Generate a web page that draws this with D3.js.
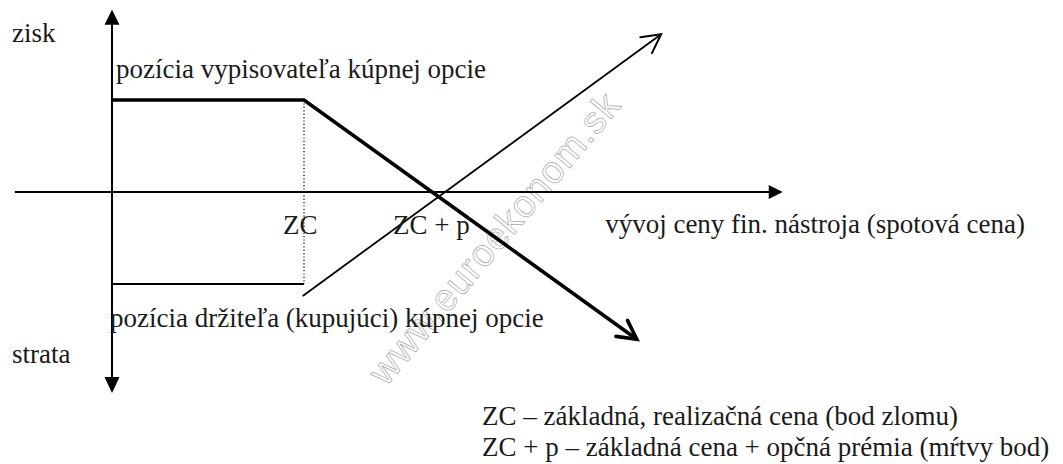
<!DOCTYPE html>
<html>
<head>
<meta charset="utf-8">
<script src="https://cdn.jsdelivr.net/npm/d3@7"></script>
<style>
  html, body { margin: 0; padding: 0; background: #fff; }
  svg { display: block; }
</style>
</head>
<body>
<svg id="chart" width="1063" height="464"></svg>
<script>
// ---- data (price units on x, profit units on y) ----
const axisX = [-1.52, 10.48];          // horizontal axis extent (price)
const axisY = [-4.37, 3.96];           // vertical axis extent (profit)
const strike = 3;                      // ZC
const premium = 2;                     // p
const writerLine = [[0, 2], [3, 2], [8.2, -3.2]];        // pozícia vypisovateľa (thick)
const holderFlat = [[0, -2], [3, -2]];                   // pozícia držiteľa, flat part
const holderRise = [[2.98, -2.26], [8.58, 3.43]];        // pozícia držiteľa, rising part
const strikeDrop = [[3, 2], [3, -2]];                    // dotted line at ZC
const axisLabels = ["zisk", "strata", "vývoj ceny fin. nástroja (spotová cena)"];
const pointLabels = ["ZC", "ZC + p"];
const lineLabels = ["pozícia vypisovateľa kúpnej opcie", "pozícia držiteľa (kupujúci) kúpnej opcie"];
const notes = ["ZC – základná, realizačná cena (bod zlomu)", "ZC + p – základná cena + opčná prémia (mŕtvy bod)"];
const watermark = "www.euroekonom.sk";

const serif = "'Liberation Serif', 'DejaVu Serif', 'Times New Roman', serif";
const svg = d3.select("#chart");
const x = d3.scaleLinear().domain([0, 10]).range([112, 752]);
const y = d3.scaleLinear().domain([-2, 2]).range([284, 100]);
const line = d3.line().x(d => x(d[0])).y(d => y(d[1]));

// watermark (outlined, behind)
svg.append("text")
  .attr("transform", "translate(494,238) rotate(-50)")
  .attr("text-anchor", "middle")
  .attr("dy", "0.35em")
  .attr("font-family", "'Liberation Sans', Arial, sans-serif")
  .attr("font-size", 38)
  .attr("letter-spacing", 1)
  .attr("fill", "none")
  .attr("stroke", "#a8a8a8")
  .attr("stroke-width", 0.7)
  .text(watermark);

// axes
svg.append("line")
  .attr("x1", x(axisX[0])).attr("x2", x(axisX[1]) - 10)
  .attr("y1", y(0)).attr("y2", y(0))
  .attr("stroke", "#000").attr("stroke-width", 2);
svg.append("line")
  .attr("x1", x(0)).attr("x2", x(0))
  .attr("y1", y(axisY[1]) + 10).attr("y2", y(axisY[0]) - 10)
  .attr("stroke", "#000").attr("stroke-width", 2);

function tri(tx, ty, dx, dy, len, half) {
  const bx = tx - dx * len, by = ty - dy * len;
  const px = -dy, py = dx;
  return `M${tx},${ty}L${bx + px * half},${by + py * half}L${bx - px * half},${by - py * half}Z`;
}
svg.append("path").attr("d", tri(x(axisX[1]), y(0), 1, 0, 14, 7)).attr("fill", "#000");
svg.append("path").attr("d", tri(x(0), y(axisY[1]), 0, -1, 15, 7.5)).attr("fill", "#000");
svg.append("path").attr("d", tri(x(0), y(axisY[0]), 0, 1, 16, 7.5)).attr("fill", "#000");

// dotted strike line
svg.append("path").attr("d", line(strikeDrop))
  .attr("fill", "none").attr("stroke", "#000").attr("stroke-width", 1.2)
  .attr("stroke-dasharray", "1.2,2.2");

// holder lines (thin)
svg.append("path").attr("d", line(holderFlat))
  .attr("fill", "none").attr("stroke", "#000").attr("stroke-width", 1.8);
svg.append("path").attr("d", line(holderRise))
  .attr("fill", "none").attr("stroke", "#000").attr("stroke-width", 1.8);

// writer line (thick)
svg.append("path").attr("d", line(writerLine))
  .attr("fill", "none").attr("stroke", "#000").attr("stroke-width", 3.6)
  .attr("stroke-linejoin", "miter");

function openHead(pts, width, arm, ang) {
  const a = pts[pts.length - 2], b = pts[pts.length - 1];
  const tx = x(b[0]), ty = y(b[1]);
  const dx = tx - x(a[0]), dy = ty - y(a[1]);
  const L = Math.hypot(dx, dy), ux = dx / L, uy = dy / L;
  const r = ang * Math.PI / 180;
  const c = Math.cos(r), s = Math.sin(r);
  const a1x = tx - arm * (ux * c - uy * s), a1y = ty - arm * (uy * c + ux * s);
  const a2x = tx - arm * (ux * c + uy * s), a2y = ty - arm * (uy * c - ux * s);
  svg.append("path")
    .attr("d", `M${a1x},${a1y}L${tx},${ty}L${a2x},${a2y}`)
    .attr("fill", "none").attr("stroke", "#000").attr("stroke-width", width)
    .attr("stroke-linejoin", "miter").attr("stroke-linecap", "round");
}
openHead(writerLine, 3.6, 21, 28);
openHead(holderRise, 2, 21, 28);

// texts
function label(t, px, py, anchor) {
  svg.append("text").attr("x", px).attr("y", py)
    .attr("text-anchor", anchor || "start")
    .attr("font-family", serif)
    .attr("font-size", 27)
    .attr("fill", "#1a1a1a")
    .text(t);
}
label(axisLabels[0], 12, 42);
label(axisLabels[1], 12, 363);
label(axisLabels[2], 1025, 233, "end");
label(lineLabels[0], 116, 78);
label(lineLabels[1], 110, 327);
label(pointLabels[0], x(strike) - 21, 234);
label(pointLabels[1], x(strike + premium) - 39, 234);
label(notes[0], 482, 425);
label(notes[1], 482, 456);
</script>
</body>
</html>
